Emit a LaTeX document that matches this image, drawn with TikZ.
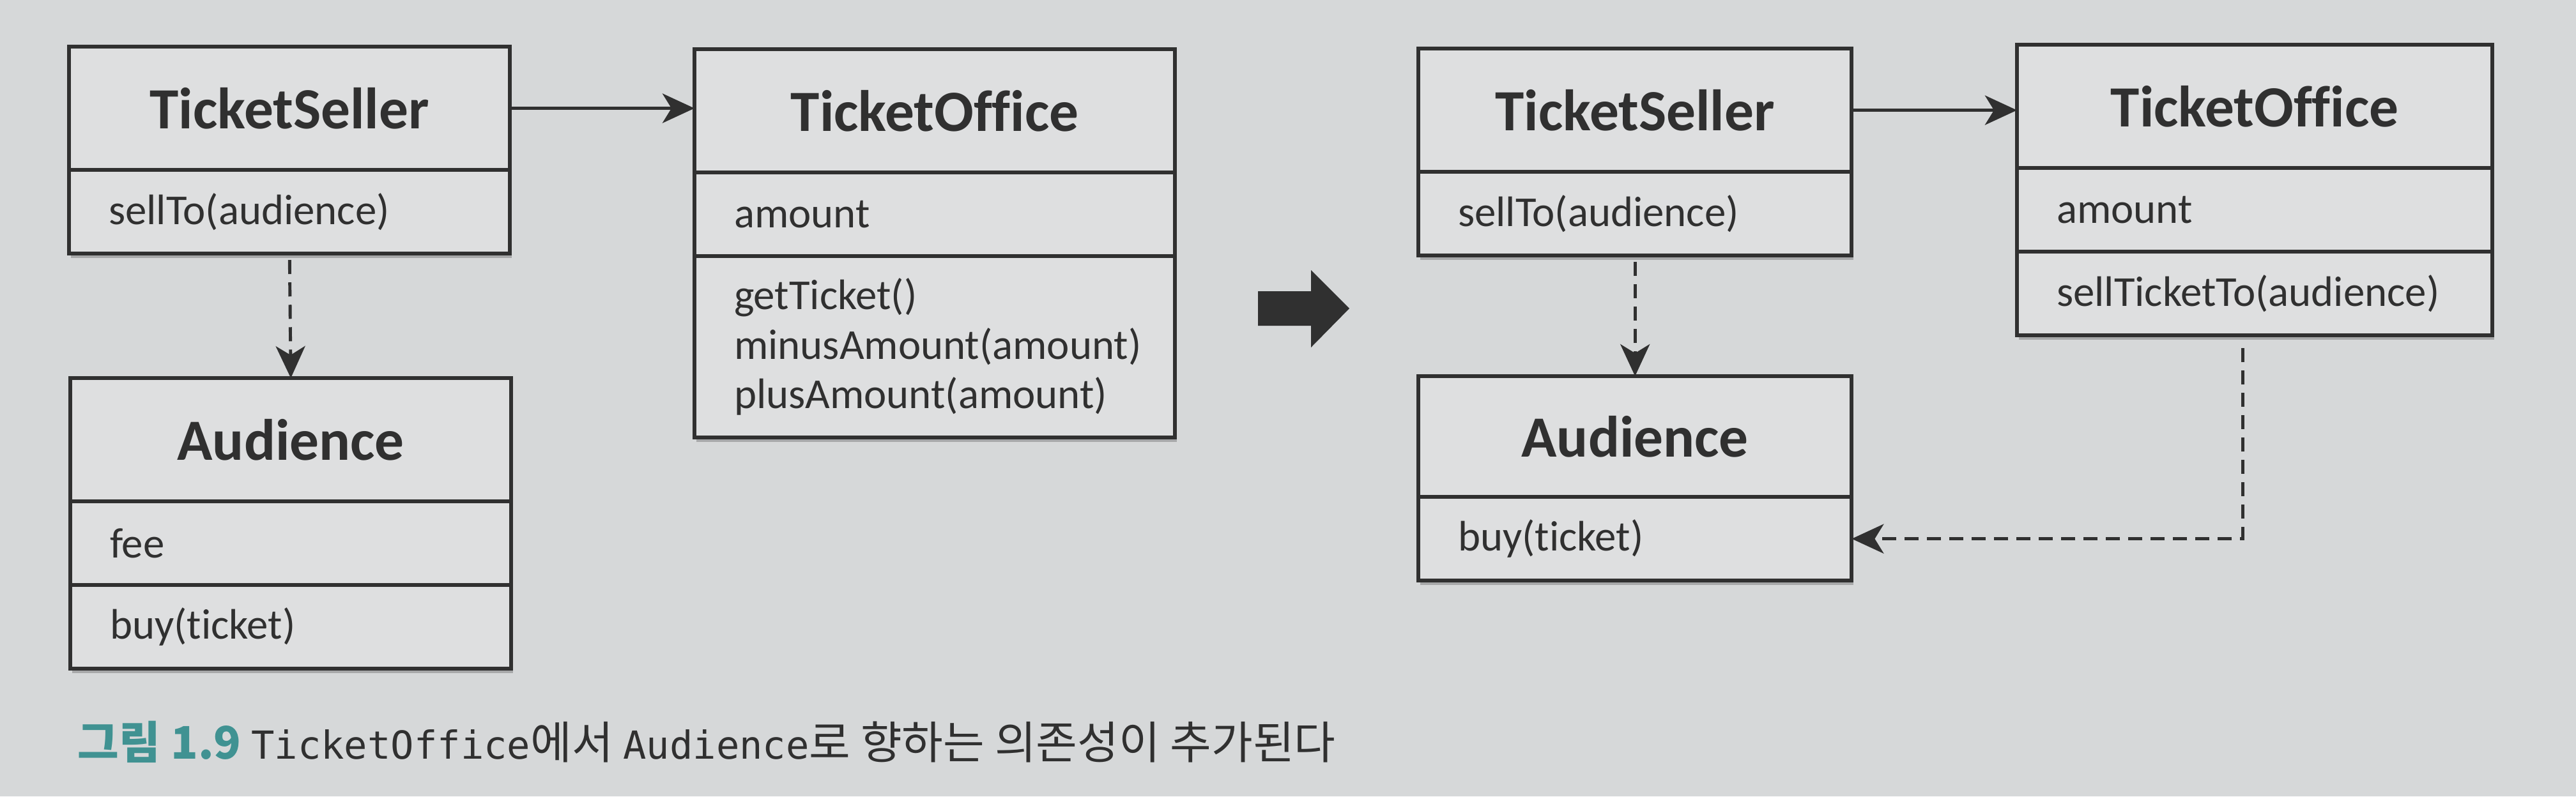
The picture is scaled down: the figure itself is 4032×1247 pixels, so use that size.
\documentclass[tikz,border=0pt]{standalone}
\usepackage{fontspec}
\setmainfont{Carlito}[Ligatures=NoCommon]
\setmonofont{DejaVu Sans Mono}
\newfontfamily\cjk{Noto Sans CJK KR}
\usetikzlibrary{positioning,arrows.meta,shadows}
\definecolor{pagegray}{RGB}{214,216,217}
\definecolor{boxgray}{RGB}{222,223,224}
\definecolor{inkgray}{RGB}{48,48,48}
\definecolor{captionteal}{RGB}{64,146,146}
\newcommand{\codeword}[1]{{\ttfamily\fontsize{17.2}{22}\selectfont #1}}

\begin{document}
\begin{tikzpicture}[
        x=0.01cm, y=-0.01cm,
        node distance=0pt,
        classbox/.style={rectangle, draw=inkgray, line width=1.7pt, fill=boxgray,
            outer sep=0pt, inner ysep=0pt, inner xsep=0.62cm, text width=#1, text=inkgray,
            drop shadow={shadow xshift=0.03cm, shadow yshift=-0.07cm, opacity=0.22, fill=black}},
        classhead/.style={classbox=#1, minimum height=1.93cm, align=center,
            font=\fontsize{26}{30}\selectfont\bfseries},
        classrow/.style={classbox=#1, minimum height=1.31cm, align=left,
            font=\fontsize{19}{22}\selectfont},
        assoc/.style={-{Stealth[length=0.5cm, width=0.46cm, inset=0.14cm]}, line width=1.6pt, draw=inkgray},
        depend/.style={-{Stealth[length=0.5cm, width=0.46cm, inset=0.14cm]}, line width=1.4pt, draw=inkgray,
            dash pattern=on 0.22cm off 0.13cm}
    ]
        \fill[pagegray] (0,0) rectangle (4032,1247);
        \useasboundingbox (0,0) rectangle (4032,1247);

        % before
        \node[classhead=5.66cm, anchor=north west] (sellerA) at (108,73) {TicketSeller};
        \node[classrow=5.66cm, below=of sellerA] (sellerAops) {sellTo(audience)};

        \node[classhead=5.66cm, anchor=north west] (audienceA) at (110,592) {Audience};
        \node[classrow=5.66cm, below=of audienceA] (audienceAattr) {fee};
        \node[classrow=5.66cm, below=of audienceAattr] (audienceAops) {buy(ticket)};

        \node[classhead=6.28cm, anchor=north west] (officeA) at (1087,77) {TicketOffice};
        \node[classrow=6.28cm, below=of officeA] (officeAattr) {amount};
        \node[classrow=6.28cm, below=of officeAattr, minimum height=2.84cm] (officeAops)
            {getTicket()\\minusAmount(amount)\\plusAmount(amount)};

        \draw[assoc] (sellerA.east) -- (sellerA.east -| officeA.west);
        \draw[depend, shorten <=0.1cm] (sellerAops.south) -- (audienceA.north);

        % change
        \fill[inkgray] (1969,456) -- (2052,456) -- (2052,423) -- (2112,483)
            -- (2052,544) -- (2052,510) -- (1969,510) -- cycle;

        % after
        \node[classhead=5.54cm, anchor=north west] (sellerB) at (2220,76) {TicketSeller};
        \node[classrow=5.54cm, below=of sellerB] (sellerBops) {sellTo(audience)};

        \node[classhead=5.54cm, anchor=north west, minimum height=1.89cm] (audienceB) at (2220,589) {Audience};
        \node[classrow=5.54cm, below=of audienceB] (audienceBops) {buy(ticket)};

        \node[classhead=6.20cm, anchor=north west] (officeB) at (3157,70) {TicketOffice};
        \node[classrow=6.20cm, below=of officeB] (officeBattr) {amount};
        \node[classrow=6.20cm, below=of officeBattr] (officeBops) {sellTicketTo(audience)};

        \draw[assoc] (sellerB.east) -- (sellerB.east -| officeB.west);
        \draw[depend, shorten <=0.1cm] (sellerBops.south) -- (audienceB.north);
        \draw[depend, shorten <=0.2cm] ([xshift=-0.19cm]officeBops.south) |- (audienceBops.east);

        \node[anchor=base west, inner sep=0pt, text=inkgray, font=\cjk\fontsize{20}{22}\selectfont] (caption)
            at (121,1188) {{\color{captionteal}\bfseries 그림 1.9} \codeword{TicketOffice}에서 \codeword{Audience}로 향하는 의존성이 추가된다};
\end{tikzpicture}
\end{document}
